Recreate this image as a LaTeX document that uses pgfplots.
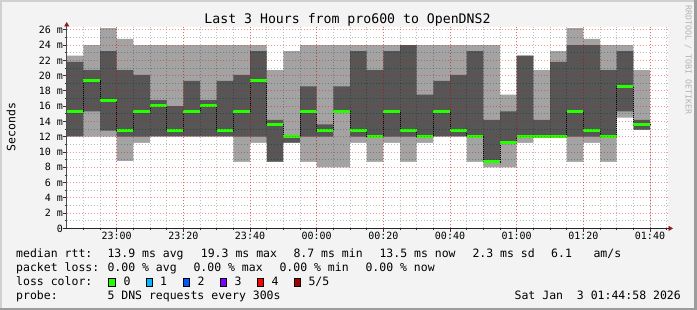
\documentclass[border=0pt]{standalone}
\usepackage{pgfplots}
\pgfplotsset{compat=1.18}
\usepackage{pgfplotstable}
\usetikzlibrary{arrows.meta}
\usepackage{fontspec}
\setmainfont{DejaVu Sans Mono}
\definecolor{bgc}{HTML}{F3F3F3}
\definecolor{framelight}{HTML}{D0D0D0}
\definecolor{framedark}{HTML}{9C9C9C}
\definecolor{smokelight}{HTML}{A3A3A3}
\definecolor{smokedark}{HTML}{565656}
\definecolor{medgreen}{HTML}{26FF00}
\definecolor{arrowred}{HTML}{8B1A1A}
\definecolor{wmark}{HTML}{B4B4B4}
\definecolor{lossa}{HTML}{26FF00}
\definecolor{lossb}{HTML}{00B8FF}
\definecolor{lossc}{HTML}{0059FF}
\definecolor{lossd}{HTML}{7E00FF}
\definecolor{losse}{HTML}{FF0000}
\definecolor{lossf}{HTML}{A00000}
% t = minutes after 22:00 (start of 5-min bin); values in ms
\pgfplotstableread{
t   lo   p2   med   p4   hi
45  12.0 12.0 15.3  21.8 22.6
50  12.0 15.3 19.35 20.7 24.0
55  12.0 12.8 16.8  23.2 26.2
60  8.8  12.0 12.8  20.7 24.8
65  11.2 12.0 15.3  20.1 24.0
70  12.0 12.0 16.1  16.8 24.0
75  12.0 12.0 12.8  16.0 24.0
80  12.0 12.0 15.3  19.3 24.0
85  12.0 12.0 16.1  16.8 24.0
90  12.0 12.0 12.8  19.3 24.0
95  8.7  12.0 15.3  20.1 24.0
100 11.2 12.0 19.35 23.2 24.0
105 8.7  8.7  13.6  14.2 20.7
110 11.2 11.2 12.0  12.0 23.2
115 8.7  12.0 15.3  18.6 24.0
120 8.0  12.0 12.8  13.6 24.0
125 8.0  15.3 15.3  18.6 24.0
130 11.2 12.0 12.8  23.2 24.0
135 8.7  12.0 12.0  20.7 24.0
140 11.2 12.0 15.3  23.2 24.0
145 8.7  12.0 12.8  24.0 24.0
150 11.2 12.0 12.0  17.5 24.0
155 12.0 12.0 15.3  19.3 24.0
160 12.0 12.0 12.8  20.1 24.0
165 8.7  12.0 12.0  23.2 24.0
170 8.0  8.7  8.7   14.2 24.0
175 8.0  11.3 11.3  15.3 17.5
180 11.2 12.0 12.0  22.6 22.6
185 12.0 12.0 12.0  14.2 20.7
190 12.0 12.0 12.0  21.8 23.2
195 8.7  12.0 15.3  24.0 26.2
200 11.2 12.0 12.8  24.0 24.8
205 8.7  12.0 12.0  20.7 24.0
210 14.5 15.3 18.6  23.2 24.0
215 12.9 12.9 13.6  14.2 20.7
220 12.9 12.9 13.6  14.2 20.7
}\smoke
\newcommand{\lgf}{\fontsize{11.5}{13}\selectfont}
\begin{document}
\begin{tikzpicture}
\begin{scope}[x=1pt,y=1pt]
\useasboundingbox (0,0) rectangle (697,310);
\fill[bgc] (0,0) rectangle (697,310);
\fill[framelight] (0,308) rectangle (697,310);
\fill[framelight] (0,0) rectangle (2,310);
\fill[framedark] (0,0) rectangle (697,2);
\fill[framedark] (694,0) rectangle (697,310);
\end{scope}
\begin{axis}[
  at={(66.7pt,81.6pt)}, anchor=south west,
  scale only axis, width=601.3pt, height=201.4pt,
  xmin=45, xmax=225.4, ymin=0, ymax=26.36,
  axis lines=left,
  axis background/.style={fill=white},
  axis on top,
  x axis line style={draw=black!85, line width=0.8pt, -{Triangle[length=4.5pt,width=5pt,color=arrowred]}, shorten >=-5pt, shorten <=-4pt},
  y axis line style={draw=black!70, line width=0.8pt, -{Triangle[length=4.5pt,width=5pt,color=arrowred]}, shorten >=-5pt},
  xtick={60,80,...,220},
  xticklabels={23:00,23:20,23:40,00:00,00:20,00:40,01:00,01:20,01:40},
  minor xtick={50,55,...,225},
  ytick={0,2,...,26},
  yticklabels={0,2 m,4 m,6 m,8 m,10 m,12 m,14 m,16 m,18 m,20 m,22 m,24 m,26 m},
  minor ytick={1,3,...,25},
  grid=both,
  major grid style={draw=red, opacity=0.42, line width=0.8pt, dash pattern=on 1pt off 2pt},
  minor grid style={draw=black, opacity=0.25, line width=0.8pt, dash pattern=on 1pt off 2pt},
  tick align=outside,
  major tick length=3.5pt, minor tick length=2pt,
  tick style={draw=black!80, line width=0.8pt},
  tick label style={font=\fontsize{10}{12}\selectfont, text=black},
  yticklabel style={anchor=east, inner sep=0pt},
  xticklabel style={anchor=north, inner sep=0pt},
]
% smoke: painter's order max -> p4 -> p2 -> min
\addplot[const plot, fill=smokelight, draw=none, forget plot] table[x=t,y=hi]{\smoke} \closedcycle;
\addplot[const plot, fill=smokedark, draw=none, forget plot] table[x=t,y=p4]{\smoke} \closedcycle;
\addplot[const plot, fill=smokelight, draw=none, forget plot] table[x=t,y=p2]{\smoke} \closedcycle;
\addplot[const plot, fill=white, draw=none, forget plot] table[x=t,y=lo]{\smoke} \closedcycle;
\addplot[const plot, black, line width=0.8pt, dash pattern=on 1pt off 1pt, forget plot] table[x=t,y=med]{\smoke};
\addplot[jump mark left, medgreen, line width=3pt, forget plot] table[x=t,y=med]{\smoke};
\end{axis}
\begin{scope}[x=1pt,y=1pt]
\node[anchor=base, font=\fontsize{13.2}{15}\selectfont] at (347.5,286) {Last 3 Hours from pro600 to OpenDNS2};
\node[rotate=90, font=\lgf] at (11.2,183) {Seconds};
\node[rotate=-90, font=\fontsize{8.3}{10}\selectfont, text=wmark] at (688.3,250) {RRDTOOL / TOBI OETIKER};
% row 1
\node[anchor=base west, inner sep=0pt, font=\lgf] at (16,52) {median rtt:};
\node[anchor=base west, inner sep=0pt, font=\lgf] at (107.3,52) {13.9 ms avg};
\node[anchor=base west, inner sep=0pt, font=\lgf] at (200.7,52) {19.3 ms max};
\node[anchor=base west, inner sep=0pt, font=\lgf] at (293.3,52) {8.7 ms min};
\node[anchor=base west, inner sep=0pt, font=\lgf] at (379.3,52) {13.5 ms now};
\node[anchor=base west, inner sep=0pt, font=\lgf] at (472.3,52) {2.3 ms sd};
\node[anchor=base west, inner sep=0pt, font=\lgf] at (551,52) {6.1};
\node[anchor=base west, inner sep=0pt, font=\lgf] at (593.3,52) {am/s};
% row 2
\node[anchor=base west, inner sep=0pt, font=\lgf] at (16,38) {packet loss:};
\node[anchor=base west, inner sep=0pt, font=\lgf] at (107.3,38) {0.00 \% avg};
\node[anchor=base west, inner sep=0pt, font=\lgf] at (193.3,38) {0.00 \% max};
\node[anchor=base west, inner sep=0pt, font=\lgf] at (279.3,38) {0.00 \% min};
\node[anchor=base west, inner sep=0pt, font=\lgf] at (365.3,38) {0.00 \% now};
% row 3
\node[anchor=base west, inner sep=0pt, font=\lgf] at (16,24) {loss color:};
\filldraw[fill=lossa, draw=black, line width=0.8pt] (108.6,23.6) rectangle (115,31.6);
\filldraw[fill=lossb, draw=black, line width=0.8pt] (145.9,23.6) rectangle (152.3,31.6);
\filldraw[fill=lossc, draw=black, line width=0.8pt] (182.9,23.6) rectangle (189.3,31.6);
\filldraw[fill=lossd, draw=black, line width=0.8pt] (219.9,23.6) rectangle (226.3,31.6);
\filldraw[fill=losse, draw=black, line width=0.8pt] (256.9,23.6) rectangle (263.3,31.6);
\filldraw[fill=lossf, draw=black, line width=0.8pt] (293.9,23.6) rectangle (300.3,31.6);
\node[anchor=base west, inner sep=0pt, font=\lgf] at (123.3,24) {0};
\node[anchor=base west, inner sep=0pt, font=\lgf] at (160,24) {1};
\node[anchor=base west, inner sep=0pt, font=\lgf] at (197.3,24) {2};
\node[anchor=base west, inner sep=0pt, font=\lgf] at (234.3,24) {3};
\node[anchor=base west, inner sep=0pt, font=\lgf] at (271.3,24) {4};
\node[anchor=base west, inner sep=0pt, font=\lgf] at (308.3,24) {5/5};
% row 4
\node[anchor=base west, inner sep=0pt, font=\lgf] at (16,10) {probe:};
\node[anchor=base west, inner sep=0pt, font=\lgf] at (107.3,10) {5 DNS requests every 300s};
\node[anchor=base east, inner sep=0pt, font=\lgf] at (681,10) {Sat Jan\ \ 3 01:44:58 2026};
\end{scope}
\end{tikzpicture}
\end{document}
